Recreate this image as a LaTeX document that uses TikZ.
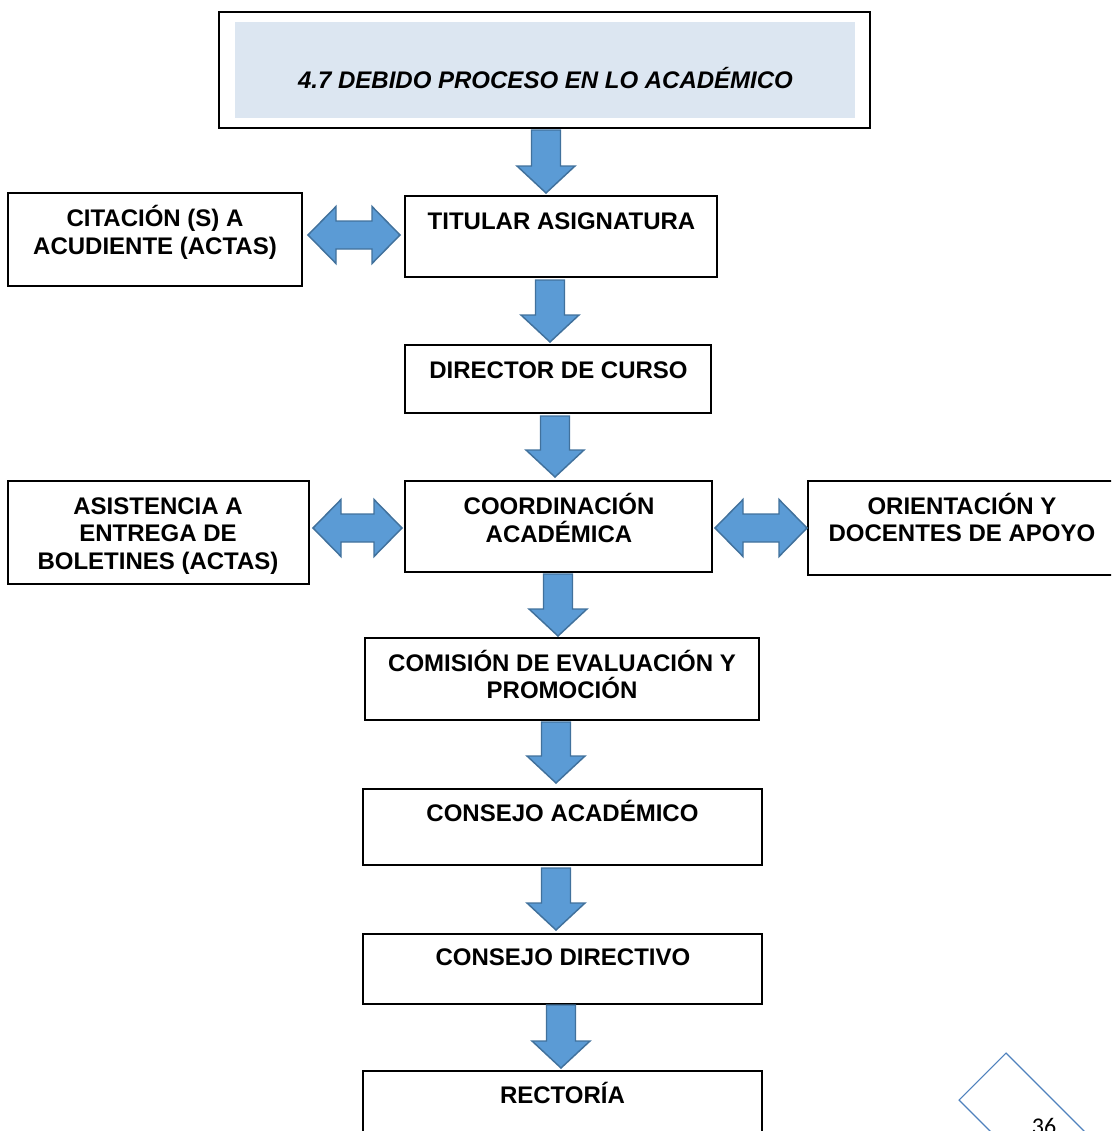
\documentclass[tikz,border=0pt]{standalone}
\usepackage{fontspec}
\setmainfont{Liberation Sans}
\newfontfamily\pagfont{Carlito}

\definecolor{azulflecha}{RGB}{91,155,213}
\definecolor{bordeflecha}{RGB}{65,113,156}
\definecolor{fondotitulo}{RGB}{220,230,241}
\definecolor{bordehoja}{RGB}{79,129,189}

\begin{document}
\begin{tikzpicture}[x=0.75pt,y=0.75pt,yscale=-1,xscale=1,
  caja/.style={draw=black,line width=0.8pt},
  texto/.style={font=\bfseries\fontsize{18}{20.7}\selectfont,align=center,inner sep=0pt},
  flecha/.style={fill=azulflecha,draw=bordeflecha,line width=1.1pt,line join=miter}]
\useasboundingbox (0,0) rectangle (1111,1131);
\clip (0,0) rectangle (1111,1131);

%Title
\draw [caja] (219,12) rectangle (870,128);
\fill [fondotitulo] (235,22) rectangle (855,118);
\node [texto,font=\bfseries\itshape\fontsize{18}{20.7}\selectfont,anchor=base] (titulo) at (545.5,88.6) {4.7 DEBIDO PROCESO EN LO ACADÉMICO};

%Boxes
\draw [caja] (405,196) rectangle (717,277);
\node [texto,anchor=base] (titular) at (561.5,229.6) {TITULAR ASIGNATURA};
\draw [caja] (8,193) rectangle (302,286);
\node [texto] (citacion) at (155,232.3) {CITACIÓN (S) A\\ACUDIENTE (ACTAS)};
\draw [caja] (405,345) rectangle (711,413);
\node [texto,anchor=base] (director) at (558.5,378.6) {DIRECTOR DE CURSO};
\draw [caja] (405,481) rectangle (712,572);
\node [texto] (coordinacion) at (559,517.8) {COORDINACIÓN\\ACADÉMICA};
\draw [caja] (8,481) rectangle (309,584);
\node [texto] (asistencia) at (158,536) {ASISTENCIA A\\ENTREGA DE\\BOLETINES (ACTAS)};
\draw [caja] (808,481) rectangle (1120,575);
\node [texto] (orientacion) at (962,517.3) {ORIENTACIÓN Y\\DOCENTES DE APOYO};
\draw [caja] (365,638) rectangle (759,720);
\node [texto] (comision) at (562,674.3) {COMISIÓN DE EVALUACIÓN Y\\PROMOCIÓN};
\draw [caja] (363,789) rectangle (762,865);
\node [texto,anchor=base] (consejoacad) at (562.5,821.6) {CONSEJO ACADÉMICO};
\draw [caja] (363,934) rectangle (762,1004);
\node [texto,anchor=base] (consejodir) at (563,965.6) {CONSEJO DIRECTIVO};
\draw [caja] (363,1071) rectangle (762,1150);
\node [texto,anchor=base] (rectoria) at (562.5,1103.6) {RECTORÍA};

%Down arrows
\draw [flecha] (531.5,130) -- ++(29,0) -- ++(0,36) -- ++(14.5,0) -- ++(-29,27) -- ++(-29,-27) -- ++(14.5,0) -- cycle;
\draw [flecha] (535.5,280) -- ++(29,0) -- ++(0,35) -- ++(14.5,0) -- ++(-29,27) -- ++(-29,-27) -- ++(14.5,0) -- cycle;
\draw [flecha] (540.5,416) -- ++(29,0) -- ++(0,34) -- ++(14.5,0) -- ++(-29,27) -- ++(-29,-27) -- ++(14.5,0) -- cycle;
\draw [flecha] (543.5,574) -- ++(29,0) -- ++(0,35) -- ++(14.5,0) -- ++(-29,27) -- ++(-29,-27) -- ++(14.5,0) -- cycle;
\draw [flecha] (541.5,722) -- ++(29,0) -- ++(0,34) -- ++(14.5,0) -- ++(-29,27) -- ++(-29,-27) -- ++(14.5,0) -- cycle;
\draw [flecha] (541.5,868) -- ++(29,0) -- ++(0,35) -- ++(14.5,0) -- ++(-29,27) -- ++(-29,-27) -- ++(14.5,0) -- cycle;
\draw [flecha] (546.5,1005) -- ++(29,0) -- ++(0,36) -- ++(14.5,0) -- ++(-29,27) -- ++(-29,-27) -- ++(14.5,0) -- cycle;

%Double arrows
\draw [flecha] (308,235) -- ++(28,-28.5) -- ++(0,14.5) -- ++(36,0) -- ++(0,-14.5) -- ++(28,28.5) -- ++(-28,28.5) -- ++(0,-14.5) -- ++(-36,0) -- ++(0,14.5) -- cycle;
\draw [flecha] (313,528) -- ++(28,-28.5) -- ++(0,14.5) -- ++(33,0) -- ++(0,-14.5) -- ++(28,28.5) -- ++(-28,28.5) -- ++(0,-14.5) -- ++(-33,0) -- ++(0,14.5) -- cycle;
\draw [flecha] (715,528) -- ++(28,-28.5) -- ++(0,14.5) -- ++(36,0) -- ++(0,-14.5) -- ++(28,28.5) -- ++(-28,28.5) -- ++(0,-14.5) -- ++(-36,0) -- ++(0,14.5) -- cycle;

%Page number
\draw [bordehoja,line width=0.8pt] (959,1100) -- (1006,1053) -- (1100,1147) -- (1053,1194) -- cycle;
\node [font=\pagfont\fontsize{18}{20}\selectfont,anchor=base,inner sep=0pt] (pagina) at (1044,1134) {36};

\end{tikzpicture}
\end{document}
